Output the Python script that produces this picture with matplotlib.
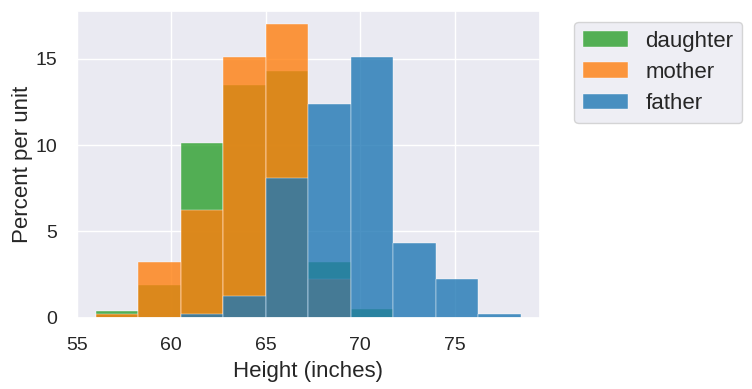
import matplotlib
matplotlib.use("Agg")
import matplotlib.pyplot as plt
import seaborn as sns
import numpy as np

# bin edges (inches) and heights (percent per unit)
bin_edges = [56.0, 58.25, 60.5, 62.75, 65.0, 67.25, 69.5, 71.75, 74.0, 76.25, 78.5]
daughter = [0.38, 1.9, 10.1, 13.5, 14.3, 3.22, 0.5, 0, 0, 0]
mother = [0.22, 3.22, 6.25, 15.1, 17.0, 2.22, 0, 0, 0, 0]
father = [0, 0, 0.22, 1.25, 8.1, 12.4, 15.1, 4.32, 2.24, 0.2]
labels = ["daughter", "mother", "father"]
colors = ["#2ca02c", "#ff7f0e", "#1f77b4"]

sns.set_theme(style="darkgrid")
plt.rcParams['font.family'] = ['Liberation Sans', 'DejaVu Sans']

fig = plt.figure(figsize=(7.52, 3.89), dpi=100)
ax = fig.add_axes([0.102, 0.183, 0.616, 0.79])

lefts = bin_edges[:-1]
for vals, col, lab in zip([daughter, mother, father], colors, labels):
    ax.hist(lefts, bins=bin_edges, weights=vals, color=col, alpha=0.8,
            edgecolor="white", linewidth=0.35, label=lab)

ax.set_xlim(55.0, 79.5)
ax.set_ylim(0, 17.8)
ax.set_xticks([55, 60, 65, 70, 75])
ax.set_yticks([0, 5, 10, 15])
ax.tick_params(labelsize=14, pad=8)
ax.set_xlabel("Height (inches)", fontsize=16, labelpad=5)
ax.set_ylabel("Percent per unit", fontsize=16, labelpad=2)
ax.legend(loc="upper left", bbox_to_anchor=(1.05, 1.0), fontsize=16,
          labelspacing=0.47)

fig.savefig("out.png", dpi=100)
